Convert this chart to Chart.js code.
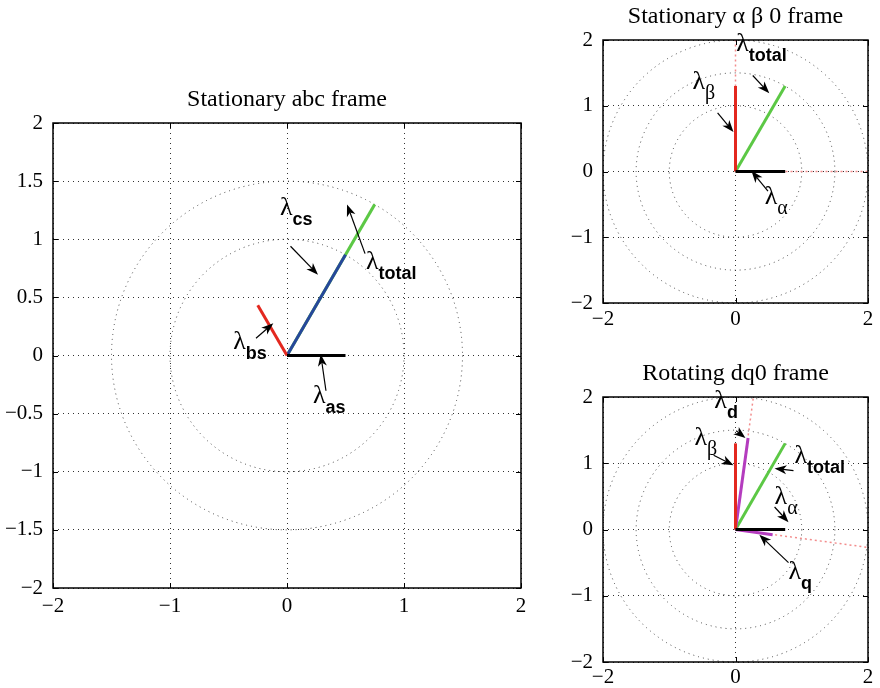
<!DOCTYPE html>
<html>
<head>
<meta charset="utf-8">
<script src="https://cdn.jsdelivr.net/npm/chart.js@4"></script>
<style>
html, body { margin: 0; padding: 0; background: #fff; }
#page { position: relative; width: 880px; height: 688px; overflow: hidden; }
canvas { position: absolute; }
</style>
</head>
<body>
<div id="page">
  <canvas id="abc" width="545" height="628" style="left:0;top:60px"></canvas>
  <canvas id="ab0" width="320" height="340" style="left:560px;top:0"></canvas>
  <canvas id="dq0" width="320" height="333" style="left:560px;top:355px"></canvas>
</div>
<script>
// --- stationary abc frame: vector end points (all start at the origin)
const abcNames = ['as', 'bs', 'cs', 'total'];
const abcX = [0.5, -0.25, 0.5, 0.75];
const abcY = [0, 0.433, 0.866, 1.3];

// --- stationary alpha beta 0 frame
const abNames = ['α', 'β', 'total'];
const abX = [0.75, 0, 0.75];
const abY = [0, 1.3, 1.3];
const abAxisX = [0, 2];   // d / q axis directions (dotted)
const abAxisY = [2, 0];

// --- rotating dq0 frame
const dqNames = ['α', 'β', 'total', 'd', 'q'];
const dqX = [0.75, 0, 0.75, 0.19, 0.56];
const dqY = [0, 1.3, 1.3, 1.38, -0.08];
const dqAxisX = [0.27, 2];
const dqAxisY = [2, -0.27];

// dotted rings and tick labels
const abcRings = [1, 1.5];
const rightRings = [1, 1.5, 2];
const abcXTicks = [-2, -1, 0, 1, 2];
const abcYTicks = [-2, -1.5, -1, -0.5, 0, 0.5, 1, 1.5, 2];
const rightXTicks = [-2, 0, 2];
const rightYTicks = [-2, -1, 0, 1, 2];

const vecColors = {
  as: '#000000', bs: '#e3281f', cs: '#26479b', total: '#5cc845',
  'α': '#000000', 'β': '#e3281f', d: '#b43cbe', q: '#b43cbe'
};

// labels with arrows: [sub, labelX, labelY, tailX, tailY, headX, headY] in data units
const abcNotes = [
  ['cs', -0.06, 1.21, 0.03, 0.94, 0.265, 0.695],
  ['total', 0.675, 0.745, 0.667, 0.876, 0.513, 1.30],
  ['bs', -0.46, 0.06, -0.265, 0.149, -0.117, 0.277],
  ['as', 0.222, -0.41, 0.333, -0.303, 0.288, 0.011]
];
const abNotes = [
  ['total', 0.01, 1.83, 0.26, 1.46, 0.51, 1.19],
  ['β', -0.65, 1.25, -0.27, 0.89, -0.03, 0.60],
  ['α', 0.44, -0.50, 0.49, -0.30, 0.24, 0.01]
];
const dqNotes = [
  ['d', -0.32, 1.83, 0.01, 1.49, 0.15, 1.38],
  ['β', -0.62, 1.27, -0.33, 1.12, -0.03, 0.97],
  ['total', 0.89, 1.0, 0.875, 0.89, 0.59, 0.92],
  ['α', 0.59, 0.39, 0.59, 0.34, 0.80, 0.11],
  ['q', 0.80, -0.74, 0.80, -0.50, 0.36, -0.08]
];

const serif = '"Liberation Serif", "Times New Roman", serif';
const sans = '"Liberation Sans", Arial, sans-serif';

function arrow(ctx, x0, y0, x1, y1) {
  const a = Math.atan2(y1 - y0, x1 - x0), L = 12, W = 4.5;
  const c = Math.cos(a), s = Math.sin(a);
  ctx.beginPath();
  ctx.moveTo(x0, y0);
  ctx.lineTo(x1 - c * L * 0.7, y1 - s * L * 0.7);
  ctx.stroke();
  ctx.beginPath();
  ctx.moveTo(x1, y1);
  ctx.lineTo(x1 - c * L + s * W, y1 - s * L - c * W);
  ctx.lineTo(x1 - c * L * 0.72, y1 - s * L * 0.72);
  ctx.lineTo(x1 - c * L - s * W, y1 - s * L + c * W);
  ctx.closePath();
  ctx.fill();
}

const vectorFrame = {
  id: 'vectorFrame',
  beforeDatasetsDraw(chart, args, opts) {
    const {ctx, chartArea: a, scales: {x, y}} = chart;
    ctx.save();
    ctx.beginPath();
    ctx.rect(a.left, a.top, a.right - a.left, a.bottom - a.top);
    ctx.clip();
    ctx.strokeStyle = '#444';
    ctx.lineWidth = 1;
    ctx.setLineDash([1, 4]);
    const cx = x.getPixelForValue(0), cy = y.getPixelForValue(0);
    opts.rings.forEach(r => {
      const rx = x.getPixelForValue(r) - cx, ry = cy - y.getPixelForValue(r);
      ctx.beginPath();
      ctx.ellipse(cx, cy, rx, ry, 0, 0, Math.PI * 2);
      ctx.stroke();
    });
    ctx.restore();
  },
  afterDraw(chart, args, opts) {
    const {ctx, chartArea: a, scales: {x, y}} = chart;
    ctx.save();
    // box and inner tick marks
    ctx.strokeStyle = '#000';
    ctx.lineWidth = 1.5;
    ctx.strokeRect(a.left, a.top, a.right - a.left, a.bottom - a.top);
    ctx.lineWidth = 1;
    ctx.beginPath();
    x.ticks.forEach(t => {
      const px = Math.round(x.getPixelForValue(t.value)) + 0.5;
      ctx.moveTo(px, a.bottom); ctx.lineTo(px, a.bottom - 5);
      ctx.moveTo(px, a.top); ctx.lineTo(px, a.top + 5);
    });
    y.ticks.forEach(t => {
      const py = Math.round(y.getPixelForValue(t.value)) + 0.5;
      ctx.moveTo(a.left, py); ctx.lineTo(a.left + 5, py);
      ctx.moveTo(a.right, py); ctx.lineTo(a.right - 5, py);
    });
    ctx.stroke();
    // labels with arrows
    ctx.fillStyle = '#000';
    ctx.lineWidth = 1.2;
    opts.notes.forEach(([sub, lx, ly, tx, ty, hx, hy]) => {
      const px = x.getPixelForValue(lx), py = y.getPixelForValue(ly);
      ctx.textAlign = 'left';
      ctx.textBaseline = 'alphabetic';
      ctx.font = '26px ' + serif;
      ctx.fillText('λ', px, py);
      const w = ctx.measureText('λ').width;
      if (sub === 'α' || sub === 'β') {
        ctx.font = '20px ' + serif;
        ctx.fillText(sub, px + w, py + 10);
      } else {
        ctx.font = 'bold 18px ' + sans;
        ctx.fillText(sub, px + w, py + 10);
      }
      arrow(ctx, x.getPixelForValue(tx), y.getPixelForValue(ty),
        x.getPixelForValue(hx), y.getPixelForValue(hy));
    });
    // title
    ctx.font = '24px ' + serif;
    ctx.textAlign = 'center';
    ctx.fillText(opts.title, (a.left + a.right) / 2, a.top - 17);
    ctx.restore();
  }
};

function vectorSets(names, xs, ys, axisX, axisY) {
  const sets = names.map((n, i) => ({
    label: n,
    data: [{x: 0, y: 0}, {x: xs[i], y: ys[i]}],
    borderColor: vecColors[n],
    borderWidth: 3,
    borderCapStyle: 'butt',
    order: n === 'total' ? 8 : i
  }));
  if (axisX) {
    axisX.forEach((ax, i) => sets.push({
      label: 'axis' + i,
      data: [{x: 0, y: 0}, {x: ax, y: axisY[i]}],
      borderColor: '#f28c8c',
      borderWidth: 1.5,
      borderDash: [2, 3],
      order: 10
    }));
  }
  return sets;
}

function tickText(v) {
  return String(v).replace('-', '\u2212');
}

function makeChart(id, sets, o) {
  return new Chart(document.getElementById(id), {
    type: 'scatter',
    data: {datasets: sets},
    options: {
      responsive: false,
      animation: false,
      devicePixelRatio: 1,
      showLine: true,
      elements: {point: {radius: 0, hoverRadius: 0}, line: {tension: 0}},
      layout: {padding: o.padding},
      plugins: {
        legend: {display: false},
        tooltip: {enabled: false},
        vectorFrame: {rings: o.rings, notes: o.notes, title: o.title}
      },
      scales: {
        x: {
          type: 'linear', min: -2, max: 2,
          afterBuildTicks: s => { s.ticks = o.xTicks.map(v => ({value: v})); },
          afterFit: s => { s.height = o.xh; },
          grid: {color: '#333', lineWidth: 1, drawTicks: false},
          border: {display: false, dash: [1, 4]},
          ticks: {
            autoSkip: false, maxRotation: 0, padding: o.xpad, color: '#000',
            font: {family: serif, size: 21}, callback: tickText
          }
        },
        y: {
          type: 'linear', min: -2, max: 2,
          afterBuildTicks: s => { s.ticks = o.yTicks.map(v => ({value: v})); },
          afterFit: s => { s.width = o.yw; },
          grid: {color: '#333', lineWidth: 1, drawTicks: false},
          border: {display: false, dash: [1, 4]},
          ticks: {
            autoSkip: false, padding: 10, color: '#000',
            font: {family: serif, size: 21}, callback: tickText
          }
        }
      }
    },
    plugins: [vectorFrame]
  });
}

makeChart('abc', vectorSets(abcNames, abcX, abcY), {
  padding: {left: 0, top: 63, right: 24, bottom: 70},
  xh: 30, yw: 53, xpad: 6,
  rings: abcRings, notes: abcNotes, title: 'Stationary abc frame',
  xTicks: abcXTicks, yTicks: abcYTicks
});

makeChart('ab0', vectorSets(abNames, abX, abY, abAxisX, abAxisY), {
  padding: {left: 0, top: 40, right: 12, bottom: 10},
  xh: 27, yw: 43, xpad: 4,
  rings: rightRings, notes: abNotes, title: 'Stationary α β 0 frame',
  xTicks: rightXTicks, yTicks: rightYTicks
});

makeChart('dq0', vectorSets(dqNames, dqX, dqY, dqAxisX, dqAxisY), {
  padding: {left: 0, top: 42, right: 12, bottom: 2},
  xh: 24, yw: 43, xpad: 3,
  rings: rightRings, notes: dqNotes, title: 'Rotating dq0 frame',
  xTicks: rightXTicks, yTicks: rightYTicks
});
</script>
</body>
</html>
